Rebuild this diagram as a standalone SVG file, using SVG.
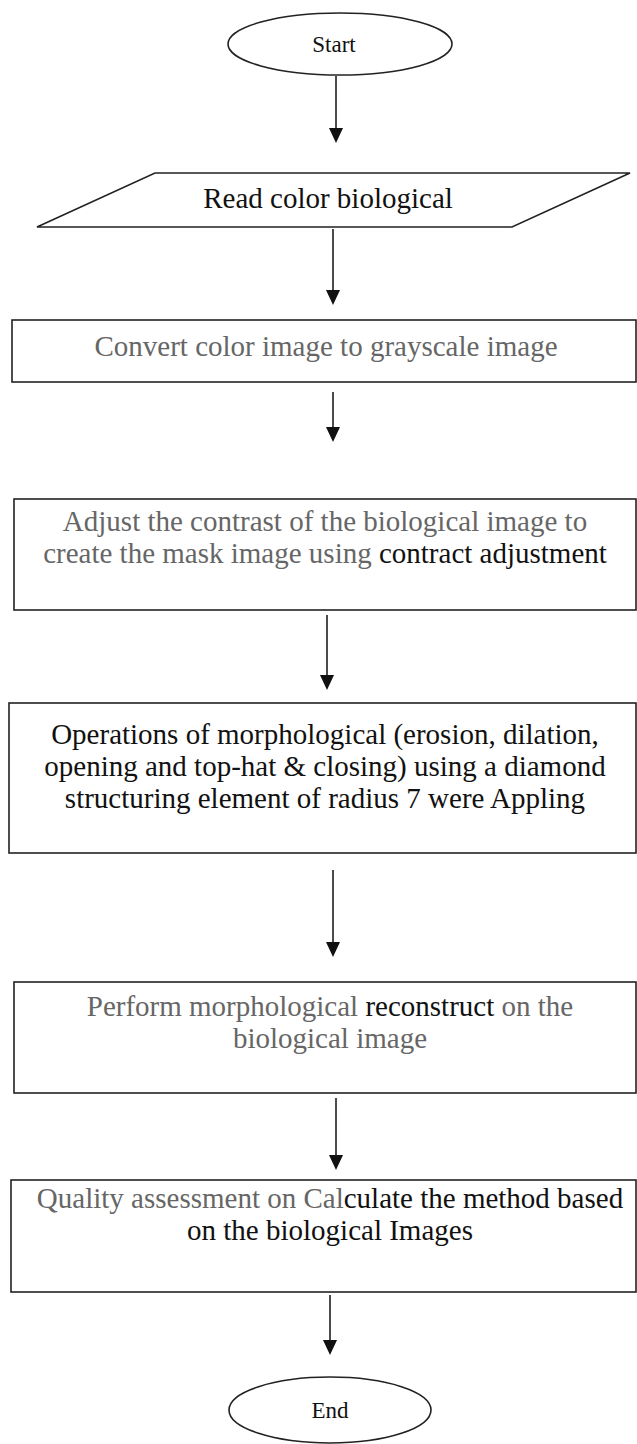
<svg xmlns="http://www.w3.org/2000/svg" width="637" height="1444" viewBox="0 0 637 1444">
<style>
.shape{fill:#fff;stroke:#222;stroke-width:1.6}
.t{font-family:"Liberation Serif","Times New Roman",serif;font-size:29px;text-anchor:middle;fill:#111}
.g{fill:#666}
.k{fill:#111}
.s{font-size:23px}
.c{stroke:#111;stroke-width:1.5;fill:none}
.ah{fill:#111}
</style>
<rect width="637" height="1444" fill="#fff"/>
<g id="connectors">
<line class="c" x1="336" y1="76" x2="336" y2="128"/><path class="ah" d="M329,128 L343,128 L336,143 Z"/>
<line class="c" x1="333" y1="229" x2="333" y2="290"/><path class="ah" d="M326,290 L340,290 L333,305 Z"/>
<line class="c" x1="333" y1="392" x2="333" y2="427"/><path class="ah" d="M326,427 L340,427 L333,442 Z"/>
<line class="c" x1="327" y1="615" x2="327" y2="675"/><path class="ah" d="M320,675 L334,675 L327,690 Z"/>
<line class="c" x1="333" y1="870" x2="333" y2="942"/><path class="ah" d="M326,942 L340,942 L333,957 Z"/>
<line class="c" x1="336" y1="1098" x2="336" y2="1155"/><path class="ah" d="M329,1155 L343,1155 L336,1170 Z"/>
<line class="c" x1="330" y1="1295" x2="330" y2="1340"/><path class="ah" d="M323,1340 L337,1340 L330,1355 Z"/>
</g>
<g id="start">
<ellipse class="shape" cx="340" cy="44" rx="112" ry="31"/>
<text class="t s" x="334" y="52">Start</text>
</g>
<g id="read">
<polygon class="shape" points="155,173 630,173 512,227 37,227"/>
<text class="t" x="328" y="208">Read color biological</text>
</g>
<g id="convert">
<rect class="shape" x="12" y="320" width="624" height="62"/>
<text class="t g" x="326" y="356">Convert color image to grayscale image</text>
</g>
<g id="adjust">
<rect class="shape" x="14" y="499" width="622" height="111"/>
<text class="t g" x="325" y="531">Adjust the contrast of the biological image to</text>
<text class="t" x="325" y="563"><tspan class="g">create the mask image using </tspan><tspan class="k">contract adjustment</tspan></text>
</g>
<g id="operations">
<rect class="shape" x="9" y="703" width="627" height="150"/>
<text class="t" x="325" y="744">Operations of morphological (erosion, dilation,</text>
<text class="t" x="325" y="776">opening and top-hat &amp; closing) using a diamond</text>
<text class="t" x="325" y="808">structuring element of radius 7 were Appling</text>
</g>
<g id="perform">
<rect class="shape" x="14" y="982" width="622" height="111"/>
<text class="t" x="330" y="1016"><tspan class="g">Perform morphological </tspan><tspan class="k">reconstruct</tspan><tspan class="g"> on the</tspan></text>
<text class="t g" x="330" y="1048">biological image</text>
</g>
<g id="quality">
<rect class="shape" x="11" y="1180" width="625" height="112"/>
<text class="t" x="330" y="1208"><tspan class="g">Quality assessment on Cal</tspan><tspan class="k">culate the method based</tspan></text>
<text class="t" x="330" y="1240">on the biological Images</text>
</g>
<g id="end">
<ellipse class="shape" cx="330" cy="1410" rx="101" ry="33"/>
<text class="t s" x="330" y="1418">End</text>
</g>
</svg>
